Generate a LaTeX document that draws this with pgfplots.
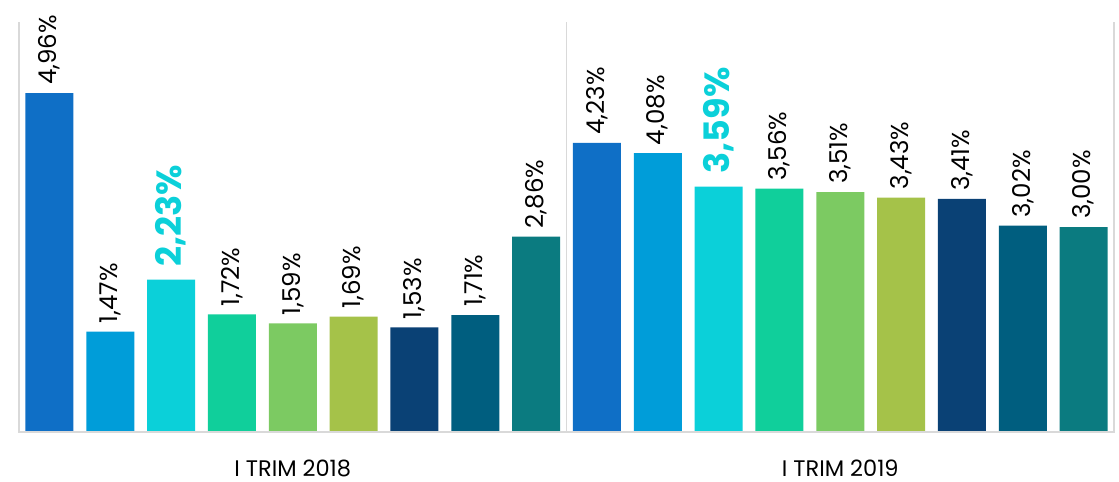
\documentclass[border=0pt]{standalone}
\usepackage{pgfplots}
\pgfplotsset{compat=1.18}
\usepackage{fontspec}
\setmainfont{Poppins}
\definecolor{c1}{HTML}{0F6FC6}
\definecolor{c2}{HTML}{009DD9}
\definecolor{c3}{HTML}{0BD0D9}
\definecolor{c4}{HTML}{10CF9B}
\definecolor{c5}{HTML}{7CCA62}
\definecolor{c6}{HTML}{A5C249}
\definecolor{c7}{HTML}{0A4175}
\definecolor{c8}{HTML}{005E7F}
\definecolor{c9}{HTML}{0B7B80}
\definecolor{gl}{HTML}{D9D9D9}
\begin{document}
\begin{tikzpicture}
\begin{axis}[name=ax, scale only axis, width=1095bp, height=410bp,
  xmin=-0.5, xmax=17.5, ymin=0, ymax=6,
  axis line style={draw=none},
  ytick=\empty, xtick={4,13}, xticklabels={I TRIM 2018, I TRIM 2019},
  major tick length=0pt,
  xticklabel style={anchor=base, yshift=-44bp, font=\fontsize{22.5bp}{26bp}\selectfont},
  clip=false,
  point meta=explicit symbolic,
  nodes near coords,
  every node near coord/.append style={rotate=90, anchor=west, inner sep=0pt, xshift=8bp, font=\fontsize{24.5bp}{28bp}\selectfont, text=black},
]
\pgfplotsset{mybar/.style={ybar, bar width=48bp, bar shift=0pt, draw=none, fill=#1}}
\addplot[mybar=c1] coordinates {(0,4.96) [4,96\%] (9,4.23) [4,23\%]};
\addplot[mybar=c2] coordinates {(1,1.47) [1,47\%] (10,4.08) [4,08\%]};
\addplot[mybar=c3, every node near coord/.append style={font=\bfseries\fontsize{35bp}{38bp}\selectfont, text=c3, xshift=5bp}] coordinates {(2,2.23) [2,23\%] (11,3.59) [3,59\%]};
\addplot[mybar=c4] coordinates {(3,1.72) [1,72\%] (12,3.56) [3,56\%]};
\addplot[mybar=c5] coordinates {(4,1.59) [1,59\%] (13,3.51) [3,51\%]};
\addplot[mybar=c6] coordinates {(5,1.69) [1,69\%] (14,3.43) [3,43\%]};
\addplot[mybar=c7] coordinates {(6,1.53) [1,53\%] (15,3.41) [3,41\%]};
\addplot[mybar=c8] coordinates {(7,1.71) [1,71\%] (16,3.02) [3,02\%]};
\addplot[mybar=c9] coordinates {(8,2.86) [2,86\%] (17,3.00) [3,00\%]};
\draw[gl, line width=1.5bp] (rel axis cs:0,1) -- (rel axis cs:0,0) -- (rel axis cs:1,0) -- (rel axis cs:1,1);
\draw[gl, line width=1.5bp] (axis cs:8.5,0) -- (axis cs:8.5,6);
\end{axis}
\pgfresetboundingbox
\useasboundingbox ([xshift=-19bp, yshift=-50bp]ax.south west) rectangle ++(1119bp,482bp);
\end{tikzpicture}
\end{document}
